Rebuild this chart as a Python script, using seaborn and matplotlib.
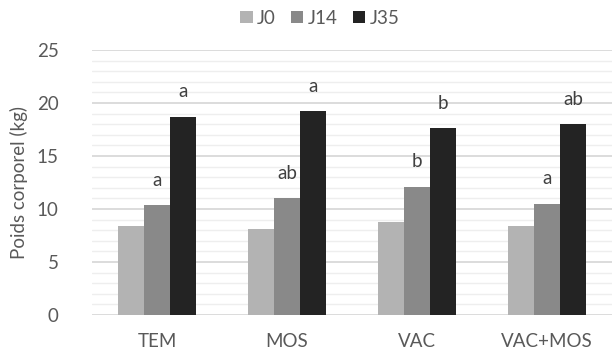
import matplotlib
matplotlib.use("Agg")
import matplotlib.pyplot as plt
from matplotlib.ticker import MultipleLocator
import seaborn as sns
import pandas as pd

groups = ["TEM", "MOS", "VAC", "VAC+MOS"]
series = ["J0", "J14", "J35"]
j0 = [8.4, 8.15, 8.8, 8.4]
j14 = [10.35, 11.0, 12.1, 10.5]
j35 = [18.7, 19.2, 17.6, 18.0]
letters_j14 = ["a", "ab", "b", "a"]
letters_j35 = ["a", "a", "b", "ab"]
yticks = [0, 5, 10, 15, 20, 25]
colors = ["#b3b3b3", "#898989", "#232323"]

rows = []
for s, vals in zip(series, [j0, j14, j35]):
    for g, v in zip(groups, vals):
        rows.append({"group": g, "series": s, "value": v})
df = pd.DataFrame(rows)

sns.set_theme(style="white")
plt.rcParams["font.family"] = ["Lato", "DejaVu Sans"]
txt = "#595959"
fs = 13.5

fig = plt.figure(figsize=(6.12, 3.54), dpi=100)
ax = fig.add_axes([92/612, 1-315/354, 520/612, (315-50)/354])

sns.barplot(data=df, x="group", y="value", hue="series", order=groups,
            hue_order=series, palette=colors, width=0.6, saturation=1,
            edgecolor="none", ax=ax, legend=True)

ax.set_ylim(0, 25)
ax.set_yticks(yticks)
ax.yaxis.set_minor_locator(MultipleLocator(1))
ax.grid(which="major", axis="y", color="#d9d9d9", linewidth=1.3, zorder=0)
ax.grid(which="minor", axis="y", color="#eeeeee", linewidth=1.0, zorder=0)
ax.set_axisbelow(True)
for sp in ax.spines.values():
    sp.set_visible(False)
ax.tick_params(axis="both", which="both", length=0, colors=txt, labelsize=fs)
ax.tick_params(axis="y", pad=24)
ax.tick_params(axis="x", pad=13)
ax.set_xlabel("")
ax.set_ylabel("Poids corporel (kg)", color=txt, fontsize=fs, labelpad=6)

# letters above J14 and J35 bars
containers = ax.containers
for cont, labs in [(containers[1], letters_j14), (containers[2], letters_j35)]:
    for bar, lab in zip(cont, labs):
        ax.annotate(lab, (bar.get_x() + bar.get_width()/2, bar.get_height()),
                    xytext=(0, 18), textcoords="offset points",
                    ha="center", va="center", fontsize=fs, color="#404040")

leg = ax.legend(loc="center", bbox_to_anchor=(320/612, 1-18/354),
                bbox_transform=fig.transFigure, ncol=3, frameon=False,
                fontsize=fs, handlelength=0.65, handleheight=0.65,
                handletextpad=0.25, columnspacing=0.8, labelcolor=txt)

fig.savefig("out.png", dpi=100)
